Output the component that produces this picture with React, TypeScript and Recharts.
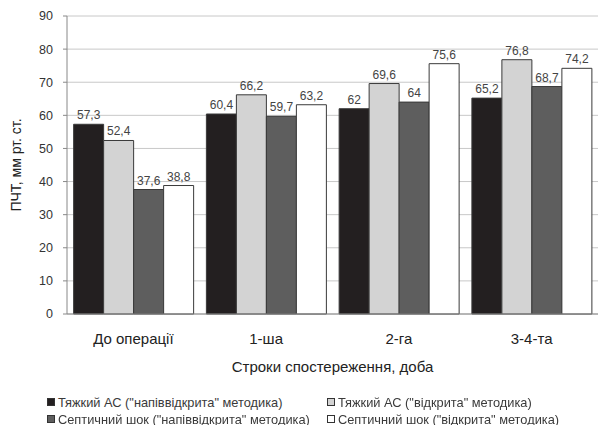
import React from "react";
import { BarChart, Bar, XAxis, YAxis, CartesianGrid, LabelList } from "recharts";

const categories = ["До операції", "1-ша", "2-га", "3-4-та"];
const seriesNames = [
  'Тяжкий АС ("напіввідкрита" методика)',
  'Тяжкий АС ("відкрита" методика)',
  'Септичний шок ("напіввідкрита" методика)',
  'Септичний шок ("відкрита" методика)',
];
const s1 = [57.3, 60.4, 62, 65.2];
const s2 = [52.4, 66.2, 69.6, 76.8];
const s3 = [37.6, 59.7, 64, 68.7];
const s4 = [38.8, 63.2, 75.6, 74.2];
const yTicks = [0, 10, 20, 30, 40, 50, 60, 70, 80, 90];

const colors = ["#231f20", "#d3d3d3", "#5e5e5e", "#ffffff"];
const keys = ["a", "b", "c", "d"];

const data = categories.map((c, i) => ({ name: c, a: s1[i], b: s2[i], c: s3[i], d: s4[i] }));

const FONT = '"Liberation Sans", Arial, sans-serif';
const fmt = (v: any) => String(v).replace(".", ",");

const LegendBlock = () => {
  const pos = [
    { left: 47, top: 394 },
    { left: 327, top: 394 },
    { left: 47, top: 411 },
    { left: 327, top: 411 },
  ];
  return (
    <>
      {seriesNames.map((n, i) => (
        <div
          key={n}
          style={{
            position: "absolute",
            left: pos[i].left,
            top: pos[i].top,
            height: 16,
            display: "flex",
            alignItems: "center",
            fontFamily: FONT,
            fontSize: 12.8,
            color: "#3a3a3a",
            whiteSpace: "nowrap",
          }}
        >
          <span
            style={{
              display: "inline-block",
              width: 6,
              height: 6,
              background: colors[i],
              border: "1px solid #333",
              marginRight: 3,
            }}
          />
          {n}
        </div>
      ))}
    </>
  );
};

export default function App() {
  return (
    <div style={{ position: "fixed", left: 0, top: 0, width: 603, height: 425, background: "#fff" }}>
      <BarChart
        width={603}
        height={425}
        data={data}
        margin={{ top: 16, right: 5, left: 0, bottom: 51 }}
        barCategoryGap="5%"
        barGap={0}
      >
        <CartesianGrid vertical={false} stroke="#c8c8c8" />
        <XAxis
          dataKey="name"
          tickLine={false}
          tickSize={0}
          tickMargin={19}
          axisLine={{ stroke: "#888" }}
          tick={{ fontFamily: FONT, fontSize: 15, fill: "#222" }}
          height={60}
          label={{
            value: "Строки спостереження, доба",
            position: "insideBottom",
            offset: 2,
            style: { fontFamily: FONT, fontSize: 15, fill: "#222" },
          }}
        />
        <YAxis
          domain={[0, 90]}
          ticks={yTicks}
          width={67}
          tickSize={4}
          tickMargin={10}
          tickLine={{ stroke: "#888" }}
          axisLine={{ stroke: "#888" }}
          tick={{ fontFamily: FONT, fontSize: 12.5, fill: "#333" }}
          label={{
            value: "ПЧТ, мм рт. ст.",
            angle: -90,
            position: "insideLeft",
            offset: 16,
            style: { fontFamily: FONT, fontSize: 14, fill: "#222", textAnchor: "middle" },
          }}
        />
        <YAxis
          yAxisId="r"
          orientation="right"
          domain={[0, 90]}
          width={0}
          tick={false}
          tickLine={false}
          axisLine={{ stroke: "#999" }}
        />
        {keys.map((k, i) => (
          <Bar
            key={k}
            dataKey={k}
            name={seriesNames[i]}
            fill={colors[i]}
            stroke="#3a3a3a"
            strokeWidth={1}
            isAnimationActive={false}
          >
            <LabelList
              dataKey={k}
              position="top"
              offset={5}
              formatter={fmt}
              style={{ fontFamily: FONT, fontSize: 12, fill: "#444" }}
            />
          </Bar>
        ))}
      </BarChart>
      <LegendBlock />
    </div>
  );
}
